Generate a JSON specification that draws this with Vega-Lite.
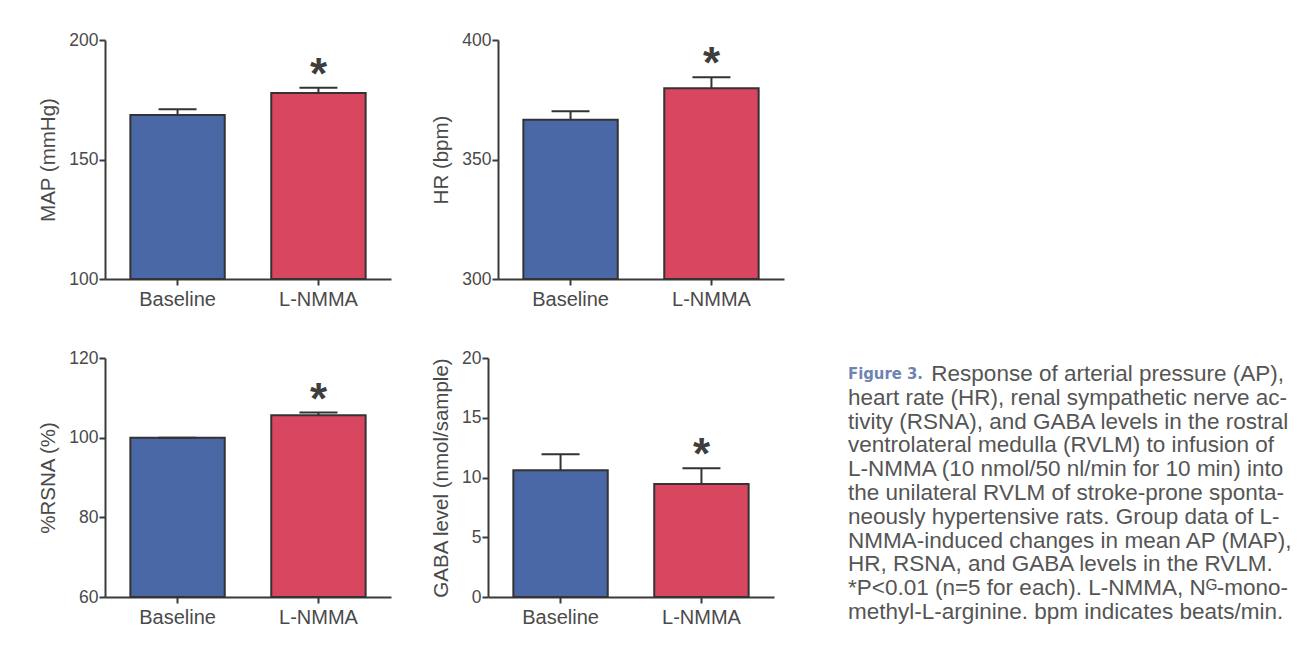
{
  "$schema": "https://vega.github.io/schema/vega-lite/v6.json",
  "background": "white",
  "padding": {"left": 38, "top": 31, "right": 5, "bottom": 5},
  "datasets": {
    "bars": [
      {"panel": "MAP", "group": "Baseline", "mean": 168.6, "upper": 171.0, "sig": false},
      {"panel": "MAP", "group": "L-NMMA", "mean": 177.8, "upper": 180.0, "sig": true},
      {"panel": "HR", "group": "Baseline", "mean": 366.6, "upper": 370.2, "sig": false},
      {"panel": "HR", "group": "L-NMMA", "mean": 379.8, "upper": 384.4, "sig": true},
      {"panel": "RSNA", "group": "Baseline", "mean": 100.0, "upper": 100.0, "sig": false},
      {"panel": "RSNA", "group": "L-NMMA", "mean": 105.6, "upper": 106.3, "sig": true},
      {"panel": "GABA", "group": "Baseline", "mean": 10.6, "upper": 11.95, "sig": false},
      {"panel": "GABA", "group": "L-NMMA", "mean": 9.46, "upper": 10.77, "sig": true}
    ],
    "caption": [
      {"line": 0, "part": "head", "text": "Figure 3."},
      {"line": 0, "part": "lead", "text": "Response of arterial pressure (AP),"},
      {"line": 1, "part": "body", "text": "heart rate (HR), renal sympathetic nerve ac-"},
      {"line": 2, "part": "body", "text": "tivity (RSNA), and GABA levels in the rostral"},
      {"line": 3, "part": "body", "text": "ventrolateral medulla (RVLM) to infusion of"},
      {"line": 4, "part": "body", "text": "L-NMMA (10 nmol/50 nl/min for 10 min) into"},
      {"line": 5, "part": "body", "text": "the unilateral RVLM of stroke-prone sponta-"},
      {"line": 6, "part": "body", "text": "neously hypertensive rats. Group data of L-"},
      {"line": 7, "part": "body", "text": "NMMA-induced changes in mean AP (MAP),"},
      {"line": 8, "part": "body", "text": "HR, RSNA, and GABA levels in the RVLM."},
      {"line": 9, "part": "body", "text": "*P<0.01 (n=5 for each). L-NMMA, Nᴳ-mono-"},
      {"line": 10, "part": "body", "text": "methyl-L-arginine. bpm indicates beats/min."}
    ]
  },
  "spacing": 64,
  "hconcat": [
    {
      "spacing": 40,
      "vconcat": [
        {
          "spacing": 40,
          "hconcat": [
            {
              "width": 286, "height": 239,
              "data": {"name": "bars"},
              "transform": [{"filter": "datum.panel === 'MAP'"}],
              "encoding": {"x": {"field": "group", "type": "nominal", "sort": ["Baseline", "L-NMMA"], "scale": {"paddingInner": 0.33, "paddingOuter": 0.18}, "title": null}},
              "layer": [
                {"mark": {"type": "bar", "stroke": "#333333", "strokeWidth": 2},
                 "encoding": {"y": {"field": "mean", "type": "quantitative", "scale": {"domain": [100, 200]}, "axis": {"values": [100, 150, 200]}, "title": "MAP (mmHg)"},
                              "y2": {"datum": 100},
                              "fill": {"field": "group", "type": "nominal", "scale": {"domain": ["Baseline", "L-NMMA"], "range": ["#4a68a6", "#d8475f"]}, "legend": null}}},
                {"mark": {"type": "rule", "stroke": "#333333", "strokeWidth": 2},
                 "encoding": {"y": {"field": "mean", "type": "quantitative"}, "y2": {"field": "upper"}}},
                {"mark": {"type": "tick", "color": "#333333", "thickness": 2, "size": 38, "opacity": 1},
                 "encoding": {"y": {"field": "upper", "type": "quantitative"}}},
                {"transform": [{"filter": "datum.sig"}],
                 "mark": {"type": "text", "text": "*", "font": "Liberation Sans", "fontWeight": "bold", "fontSize": 44, "fill": "#3d3d3d", "baseline": "alphabetic", "dy": 1},
                 "encoding": {"y": {"field": "upper", "type": "quantitative"}}}
              ]
            },
            {
              "width": 286, "height": 239,
              "data": {"name": "bars"},
              "transform": [{"filter": "datum.panel === 'HR'"}],
              "encoding": {"x": {"field": "group", "type": "nominal", "sort": ["Baseline", "L-NMMA"], "scale": {"paddingInner": 0.33, "paddingOuter": 0.18}, "title": null}},
              "layer": [
                {"mark": {"type": "bar", "stroke": "#333333", "strokeWidth": 2},
                 "encoding": {"y": {"field": "mean", "type": "quantitative", "scale": {"domain": [300, 400]}, "axis": {"values": [300, 350, 400]}, "title": "HR (bpm)"},
                              "y2": {"datum": 300},
                              "fill": {"field": "group", "type": "nominal", "scale": {"domain": ["Baseline", "L-NMMA"], "range": ["#4a68a6", "#d8475f"]}, "legend": null}}},
                {"mark": {"type": "rule", "stroke": "#333333", "strokeWidth": 2},
                 "encoding": {"y": {"field": "mean", "type": "quantitative"}, "y2": {"field": "upper"}}},
                {"mark": {"type": "tick", "color": "#333333", "thickness": 2, "size": 38, "opacity": 1},
                 "encoding": {"y": {"field": "upper", "type": "quantitative"}}},
                {"transform": [{"filter": "datum.sig"}],
                 "mark": {"type": "text", "text": "*", "font": "Liberation Sans", "fontWeight": "bold", "fontSize": 44, "fill": "#3d3d3d", "baseline": "alphabetic", "dy": 1},
                 "encoding": {"y": {"field": "upper", "type": "quantitative"}}}
              ]
            }
          ]
        },
        {
          "spacing": 40,
          "hconcat": [
            {
              "width": 286, "height": 239,
              "data": {"name": "bars"},
              "transform": [{"filter": "datum.panel === 'RSNA'"}],
              "encoding": {"x": {"field": "group", "type": "nominal", "sort": ["Baseline", "L-NMMA"], "scale": {"paddingInner": 0.33, "paddingOuter": 0.18}, "title": null}},
              "layer": [
                {"mark": {"type": "bar", "stroke": "#333333", "strokeWidth": 2},
                 "encoding": {"y": {"field": "mean", "type": "quantitative", "scale": {"domain": [60, 120]}, "axis": {"values": [60, 80, 100, 120]}, "title": "%RSNA (%)"},
                              "y2": {"datum": 60},
                              "fill": {"field": "group", "type": "nominal", "scale": {"domain": ["Baseline", "L-NMMA"], "range": ["#4a68a6", "#d8475f"]}, "legend": null}}},
                {"mark": {"type": "rule", "stroke": "#333333", "strokeWidth": 2},
                 "encoding": {"y": {"field": "mean", "type": "quantitative"}, "y2": {"field": "upper"}}},
                {"mark": {"type": "tick", "color": "#333333", "thickness": 2, "size": 38, "opacity": 1},
                 "encoding": {"y": {"field": "upper", "type": "quantitative"}}},
                {"transform": [{"filter": "datum.sig"}],
                 "mark": {"type": "text", "text": "*", "font": "Liberation Sans", "fontWeight": "bold", "fontSize": 44, "fill": "#3d3d3d", "baseline": "alphabetic", "dy": 1},
                 "encoding": {"y": {"field": "upper", "type": "quantitative"}}}
              ]
            },
            {
              "width": 286, "height": 239,
              "data": {"name": "bars"},
              "transform": [{"filter": "datum.panel === 'GABA'"}],
              "encoding": {"x": {"field": "group", "type": "nominal", "sort": ["Baseline", "L-NMMA"], "scale": {"paddingInner": 0.33, "paddingOuter": 0.18}, "title": null}},
              "layer": [
                {"mark": {"type": "bar", "stroke": "#333333", "strokeWidth": 2},
                 "encoding": {"y": {"field": "mean", "type": "quantitative", "scale": {"domain": [0, 20]}, "axis": {"values": [0, 5, 10, 15, 20]}, "title": "GABA level (nmol/sample)"},
                              "y2": {"datum": 0},
                              "fill": {"field": "group", "type": "nominal", "scale": {"domain": ["Baseline", "L-NMMA"], "range": ["#4a68a6", "#d8475f"]}, "legend": null}}},
                {"mark": {"type": "rule", "stroke": "#333333", "strokeWidth": 2},
                 "encoding": {"y": {"field": "mean", "type": "quantitative"}, "y2": {"field": "upper"}}},
                {"mark": {"type": "tick", "color": "#333333", "thickness": 2, "size": 38, "opacity": 1},
                 "encoding": {"y": {"field": "upper", "type": "quantitative"}}},
                {"transform": [{"filter": "datum.sig"}],
                 "mark": {"type": "text", "text": "*", "font": "Liberation Sans", "fontWeight": "bold", "fontSize": 44, "fill": "#3d3d3d", "baseline": "alphabetic", "dy": 1},
                 "encoding": {"y": {"field": "upper", "type": "quantitative"}}}
              ]
            }
          ]
        }
      ]
    },
    {
      "width": 436, "height": 557,
      "data": {"name": "caption"},
      "encoding": {"y": {"field": "line", "type": "quantitative", "scale": {"domain": [-14.03, 9.37], "reverse": true}, "axis": null}},
      "layer": [
        {"transform": [{"filter": "datum.part === 'head'"}],
         "mark": {"type": "text", "align": "left", "baseline": "middle", "font": "DejaVu Sans Condensed", "fontWeight": "bold", "fontSize": 16.5, "fill": "#6d84b4"},
         "encoding": {"x": {"datum": 0, "type": "quantitative", "scale": {"domain": [0, 1]}, "axis": null}, "text": {"field": "text"}}},
        {"transform": [{"filter": "datum.part === 'lead'"}],
         "mark": {"type": "text", "align": "right", "baseline": "middle", "font": "Liberation Sans", "fontSize": 22.5, "fill": "#555555"},
         "encoding": {"x": {"datum": 1, "type": "quantitative"}, "text": {"field": "text"}}},
        {"transform": [{"filter": "datum.part === 'body'"}],
         "mark": {"type": "text", "align": "left", "baseline": "middle", "font": "Liberation Sans", "fontSize": 22.5, "fill": "#555555"},
         "encoding": {"x": {"datum": 0, "type": "quantitative"}, "text": {"field": "text"}}}
      ]
    }
  ],
  "config": {
    "view": {"stroke": null},
    "axis": {"domainColor": "#3a3a3a", "domainWidth": 2, "tickColor": "#3a3a3a", "tickWidth": 2, "tickSize": 6, "labelColor": "#4a4a4a", "titleColor": "#4a4a4a", "labelFont": "Liberation Sans", "titleFont": "Liberation Sans", "titleFontWeight": "normal", "titleFontSize": 20.5, "grid": false},
    "axisY": {"labelFontSize": 17.5, "labelPadding": 1, "titlePadding": 10},
    "axisX": {"labelFontSize": 20, "labelAngle": 0, "labelPadding": 4}
  }
}
